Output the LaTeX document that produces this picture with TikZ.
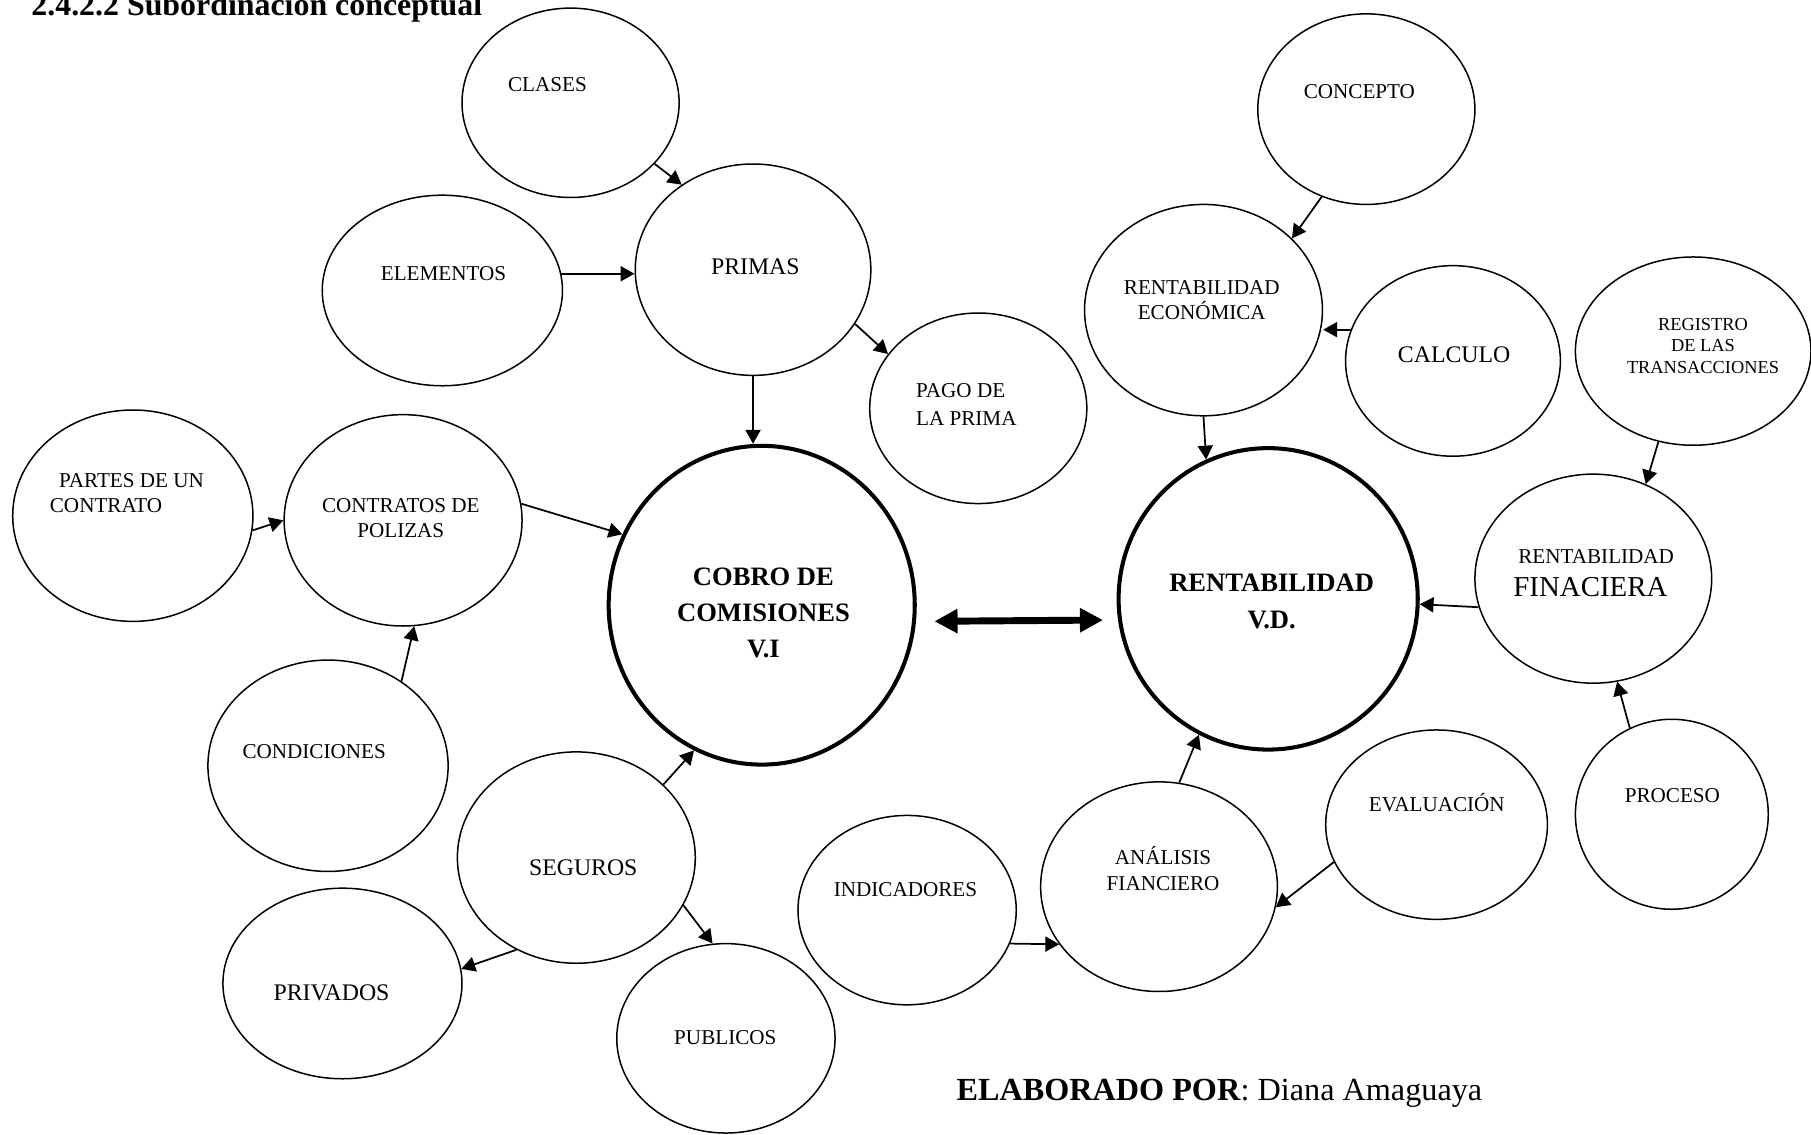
\documentclass[tikz,border=0pt]{standalone}
\usepackage{fontspec}
\setmainfont{Liberation Serif}
\usetikzlibrary{shapes.geometric,arrows.meta}
\tikzset{
 ell/.style={draw, ellipse, line width=1.3pt, inner sep=0pt},
 bigell/.style={draw, ellipse, line width=3.5pt, inner sep=0pt},
 txt/.style={inner sep=0pt, align=center, font=\fontsize{18.3}{21.5}\selectfont},
 txtb/.style={inner sep=0pt, align=center, font=\fontsize{20.6}{24}\selectfont},
 txtc/.style={inner sep=0pt, align=center, font=\fontsize{23}{31}\selectfont\bfseries},
 arr/.style={line width=1.5pt, -{Triangle[length=12pt,width=13pt]}},
 dbl/.style={line width=6pt, {Triangle[length=20pt,width=20pt]}-{Triangle[length=20pt,width=20pt]}},
}
\begin{document}
\begin{tikzpicture}[x=1pt,y=-1pt]
\fill[white] (0,0) rectangle (1568,982);
\useasboundingbox (0,0) rectangle (1568,982);

% ellipses
\node[ell, minimum width=188pt, minimum height=164pt] (clases) at (494,89) {};
\node[ell, minimum width=208pt, minimum height=165pt] (elementos) at (383,251.5) {};
\node[ell, minimum width=204pt, minimum height=183pt] (primas) at (652,233.5) {};
\node[ell, minimum width=188pt, minimum height=165pt] (pago) at (847,353.5) {};
\node[ell, minimum width=188pt, minimum height=165pt] (concepto) at (1183,94.5) {};
\node[ell, minimum width=206pt, minimum height=183pt] (recon) at (1042,268.5) {};
\node[ell, minimum width=186pt, minimum height=165pt] (calculo) at (1258,312.5) {};
\node[ell, minimum width=204pt, minimum height=163pt] (registro) at (1466,304) {};
\node[ell, minimum width=208pt, minimum height=183pt] (partes) at (115,446.5) {};
\node[ell, minimum width=206pt, minimum height=183pt] (contratos) at (349,450.5) {};
\node[bigell, minimum width=265pt, minimum height=276pt] (cobro) at (659.5,524) {};
\node[bigell, minimum width=259pt, minimum height=261pt] (rvd) at (1098,518.5) {};
\node[ell, minimum width=205pt, minimum height=181pt] (rfin) at (1379.5,501) {};
\node[ell, minimum width=208pt, minimum height=183pt] (condiciones) at (284,663) {};
\node[ell, minimum width=206pt, minimum height=183pt] (seguros) at (499,742.5) {};
\node[ell, minimum width=207pt, minimum height=165pt] (privados) at (296.5,851.5) {};
\node[ell, minimum width=189pt, minimum height=164pt] (publicos) at (628.5,899) {};
\node[ell, minimum width=189pt, minimum height=164pt] (indicadores) at (785.4,788) {};
\node[ell, minimum width=205pt, minimum height=181.5pt] (analisis) at (1003.5,767.7) {};
\node[ell, minimum width=192pt, minimum height=164pt] (evaluacion) at (1243.8,714) {};
\node[ell, minimum width=167pt, minimum height=164.5pt] (proceso) at (1447.5,705) {};

% texts
\node[anchor=base west, inner sep=0pt, font=\fontsize{27.6}{30}\selectfont\bfseries] (title) at (27,13) {2.4.2.2 Subordinación conceptual};
\node[txt] (tclases) at (474,73) {CLASES};
\node[txt] (telementos) at (384,236.5) {ELEMENTOS};
\node[txtb] (tprimas) at (654,231) {PRIMAS};
\node[txt, anchor=west, align=left, font=\fontsize{18.3}{24}\selectfont] (tpago) at (793,350) {PAGO DE\\LA PRIMA};
\node[txt] (tconcepto) at (1177,79) {CONCEPTO};
\node[txt] (trecon) at (1040.5,259.5) {RENTABILIDAD\\ECONÓMICA};
\node[txtb] (tcalculo) at (1259,307) {CALCULO};
\node[txt, font=\fontsize{15.9}{18.5}\selectfont] (tregistro) at (1474.5,299.5) {REGISTRO\\DE LAS\\TRANSACCIONES};
\node[txt, anchor=west, align=left] (tpartes) at (43,427) {\hspace*{8pt}PARTES DE UN\\CONTRATO};
\node[txt, font=\fontsize{18.3}{21}\selectfont] (tcontratos) at (347,448.5) {CONTRATOS DE\\POLIZAS};
\node[txtc] (tcobro) at (661,530.5) {COBRO DE\\COMISIONES\\V.I};
\node[txtc, font=\fontsize{23}{32}\selectfont\bfseries] (trvd) at (1101,521) {RENTABILIDAD\\V.D.};
\node[txt] (trfina) at (1382,482) {RENTABILIDAD};
\node[txt, font=\fontsize{25}{28}\selectfont] (trfinb) at (1377,508.7) {FINACIERA};
\node[txt] (tcondiciones) at (272,651) {CONDICIONES};
\node[txtb] (tseguros) at (505,751) {SEGUROS};
\node[txtb] (tprivados) at (287,860) {PRIVADOS};
\node[txt] (tpublicos) at (628,898) {PUBLICOS};
\node[txt] (tindicadores) at (784,770) {INDICADORES};
\node[txt, font=\fontsize{18.3}{22}\selectfont] (tanalisis) at (1007,752) {ANÁLISIS\\FIANCIERO};
\node[txt] (tevaluacion) at (1244,695) {EVALUACIÓN};
\node[txt] (tproceso) at (1448,689) {PROCESO};
\node[anchor=base west, inner sep=0pt, font=\fontsize{27.9}{30}\selectfont] (elaborado) at (828,953) {\textbf{ELABORADO POR}: Diana Amaguaya};

% connectors
\draw[arr] (clases.-36.9) -- (primas.130.7);
\draw[arr] (elementos.8) -- (elementos.8 -| primas.west);
\draw[arr] (primas.south) -- (primas.south |- cobro.north);
\draw[arr] (primas.-28.5) -- (pago.149.3);
\draw[arr] (partes.-7.5) -- (contratos.180);
\draw[arr] (contratos.8.8) -- (cobro.153);
\draw[arr] (condiciones.49.4) -- (contratos.-84.5);
\draw[arr] (seguros.40.7) -- (cobro.-115);
\draw[arr] (seguros.-123.9) -- (privados.7.6);
\draw[arr] (seguros.-24.2) -- (publicos.98.3);
\draw[arr] (concepto.-117.3) -- (recon.39.5);
\draw[arr] (calculo.163.2) -- (calculo.163.2 -| recon.east);
\draw[arr] (recon.south) -- (rvd.114.3);
\draw[arr] (registro.-111.3) -- (rfin.61);
\draw[arr] (rfin.194.6) -- (rvd.-2.9);
\draw[arr] (proceso.116) -- (rfin.-77);
\draw[arr] (analisis.79.8) -- (rvd.-117.1);
\draw[arr] (evaluacion.200.3) -- (analisis.-10.6);
\draw[arr] (indicadores.-18.3) -- (analisis.210);
\draw[dbl, shorten <=16pt, shorten >=13pt] (cobro.-6.3) -- (rvd.188.9);
\end{tikzpicture}
\end{document}
